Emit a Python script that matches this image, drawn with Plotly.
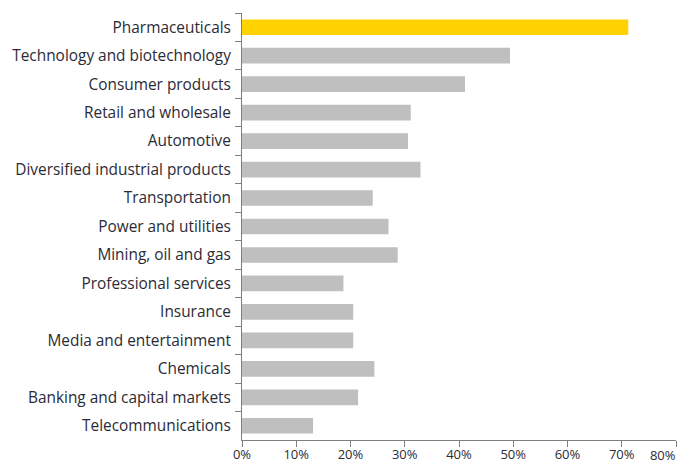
import plotly.graph_objects as go

categories = [
    "Pharmaceuticals",
    "Technology and biotechnology",
    "Consumer products",
    "Retail and wholesale",
    "Automotive",
    "Diversified industrial products",
    "Transportation",
    "Power and utilities",
    "Mining, oil and gas",
    "Professional services",
    "Insurance",
    "Media and entertainment",
    "Chemicals",
    "Banking and capital markets",
    "Telecommunications",
]
values = [71.2, 49.4, 41.1, 31.1, 30.6, 32.9, 24.1, 27.0, 28.7, 18.7, 20.5, 20.5, 24.4, 21.4, 13.1]
tick_vals = [0, 10, 20, 30, 40, 50, 60, 70, 80]
tick_text = ["0%", "10%", "20%", "30%", "40%", "50%", "60%", "70%", "80%"]

colors = ["#FFD200" if i == 0 else "#BFBFBF" for i in range(len(categories))]

fig = go.Figure(go.Bar(
    x=values, y=categories, orientation="h",
    marker=dict(color=colors, line=dict(width=0)),
    width=0.55,
    hoverinfo="x+y",
))
# empty helper trace so that the secondary x axis (last tick label) is drawn
fig.add_trace(go.Scatter(x=[], y=[], xaxis="x2", yaxis="y",
                         showlegend=False, hoverinfo="skip"))

fig.update_layout(
    width=684, height=464,
    margin=dict(l=242, r=8, t=13, b=24),
    paper_bgcolor="white", plot_bgcolor="white",
    font=dict(family="Open Sans", size=15.4, color="#2b2b36"),
    showlegend=False,
)
fig.update_xaxes(
    range=[0, 80], tickvals=tick_vals, ticktext=tick_text[:-1] + [""],
    showgrid=False, zeroline=False, automargin=False,
    showline=True, linecolor="#7f7f7f", linewidth=1,
    ticks="outside", ticklen=6, tickcolor="#7f7f7f",
    ticklabelstandoff=-4,
    tickfont=dict(size=13, color="#2b2b36"),
)
# last tick label, right-aligned so it stays inside the page
fig.update_layout(xaxis2=dict(
    overlaying="x", anchor="y", side="bottom", range=[0, 80],
    tickvals=tick_vals[-1:], ticktext=tick_text[-1:],
    showgrid=False, zeroline=False, automargin=False, showline=False,
    ticks="outside", ticklen=6, tickcolor="rgba(0,0,0,0)",
    ticklabelposition="outside left", ticklabelstandoff=3,
    tickfont=dict(size=13, color="#2b2b36"),
))
fig.update_yaxes(
    autorange="reversed", showgrid=False, zeroline=False, automargin=False,
    showline=True, linecolor="#7f7f7f", linewidth=1,
    ticks="outside", ticklen=6, tickcolor="#7f7f7f",
    tickson="boundaries", ticklabelstandoff=7,
    tickfont=dict(size=15.4, color="#2b2b36"),
)

fig.write_html("out.html")
